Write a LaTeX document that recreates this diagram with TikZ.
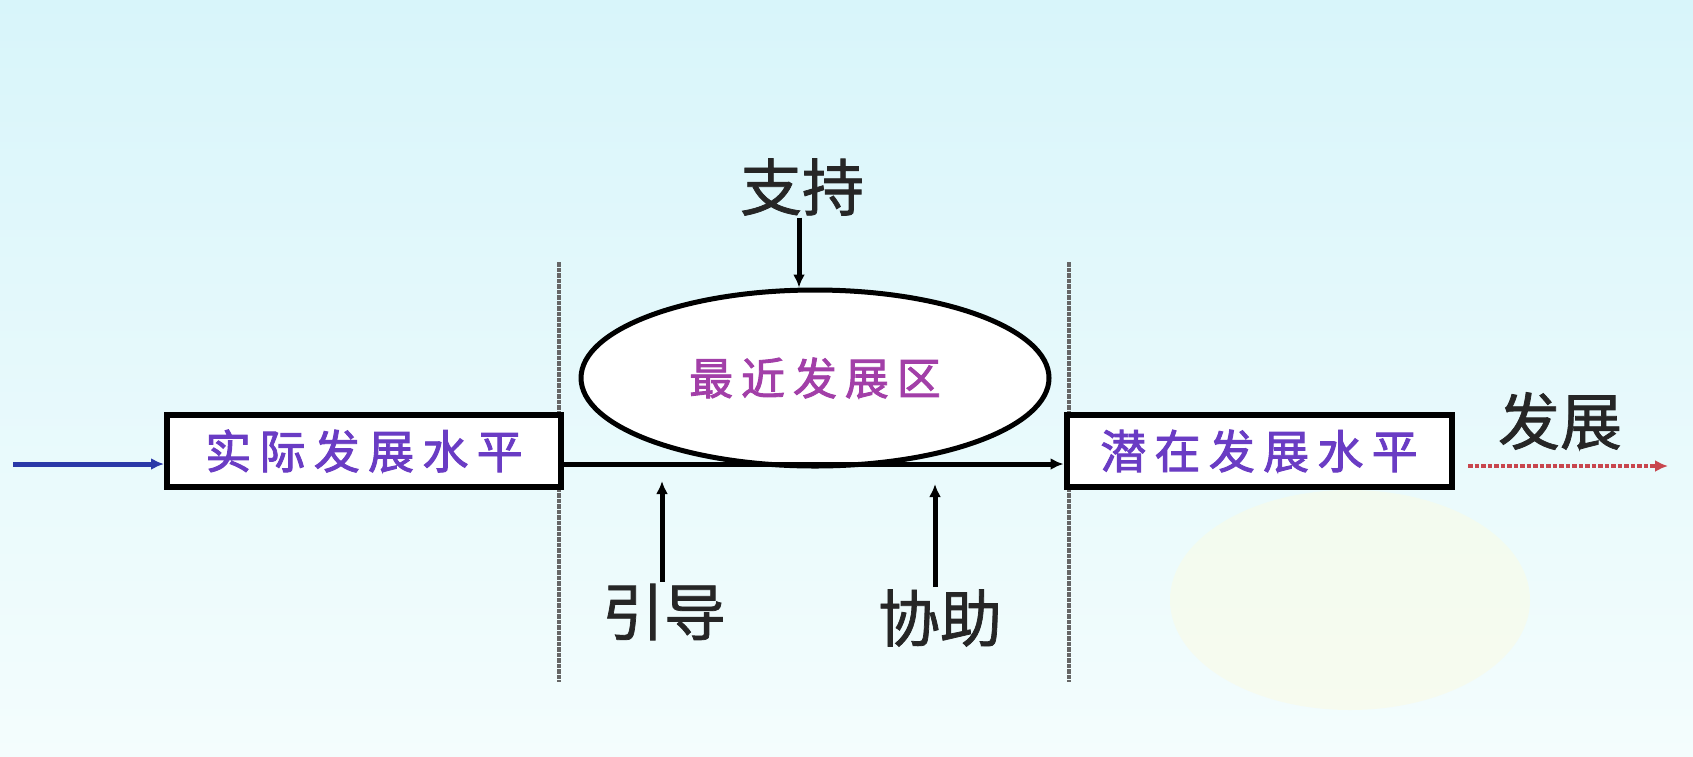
\documentclass[tikz,border=0pt]{standalone}
\usepackage{fontspec}
\newfontfamily\cjk[FakeBold=1.2]{Noto Sans CJK SC}
\newfontfamily\cjkls[LetterSpace=18,FakeBold=2]{Noto Sans CJK SC}
\usetikzlibrary{arrows.meta,shapes.geometric}
\definecolor{boxtext}{HTML}{6A3CC4}
\definecolor{zonetext}{HTML}{A23FA8}
\definecolor{inblue}{HTML}{2A38A8}
\definecolor{outred}{HTML}{C8464E}
\definecolor{skytop}{HTML}{D8F5FA}
\definecolor{skybot}{HTML}{F4FDFD}
\definecolor{sun}{HTML}{FFFBDC}
\tikzset{
  levelbox/.style={draw=black, line width=6pt, fill=white, minimum height=72pt, inner sep=0pt, text=boxtext, font=\cjkls\fontsize{46}{50}\selectfont},
  zonebox/.style={ellipse, draw=black, line width=5pt, fill=white, minimum width=468pt, minimum height=176pt, inner sep=0pt, text=zonetext, font=\cjkls\fontsize{44}{48}\selectfont},
  helplabel/.style={text=black!85, font=\cjk\fontsize{62}{66}\selectfont, inner sep=2pt},
  arr/.style={line width=5pt, -{Latex[length=13pt,width=12pt]}},
  bluearr/.style={draw=inblue, line width=5pt, -{Latex[length=13pt,width=12pt]}},
  redarr/.style={draw=outred, line width=4.5pt, dotted, -{Latex[length=13pt,width=12pt]}},
  zoneedge/.style={draw=black!60, line width=4.5pt, densely dotted}
}
\begin{document}
\begin{tikzpicture}[x=1pt,y=-1pt]
\useasboundingbox (0,0) rectangle (1693,756);
\shade[top color=skytop, bottom color=skybot] (0,0) rectangle (1693,756);
\fill[sun, opacity=0.4] (1350,600) ellipse (180pt and 110pt);

% boundaries of the zone
\coordinate (l1t) at (559,262);
\coordinate (l1b) at (559,682);
\coordinate (l2t) at (1069,262);
\coordinate (l2b) at (1069,682);
\draw[zoneedge] (l1t) -- (l1b);
\draw[zoneedge] (l2t) -- (l2b);

\node[zonebox] (zpd) at (815,378) {最近发展区};
\node[levelbox, minimum width=394pt] (actual) at (364,451) {实际发展水平};
\node[levelbox, minimum width=385pt] (potential) at (1259,451) {潜在发展水平};

\node[helplabel] (support) at (802,187) {支持};
\node[helplabel] (guide) at (664,612) {引导};
\node[helplabel] (assist) at (940,618) {协助};
\node[helplabel] (develop) at (1560,421) {发展};

\coordinate (in) at (13,464);
\coordinate (outs) at (1468,466);
\coordinate (oute) at (1668,466);
\coordinate (guideend) at (662,481);
\coordinate (assistend) at (935,484);

\draw[bluearr] (in) -- (actual.west |- in);
\draw[arr] (actual.east |- in) -- (potential.west |- in);
\draw[redarr] (outs) -- (oute);
\draw[arr] (support.south -| 799,0) -- (799,0 |- zpd.north);
\draw[arr] (guide.north -| guideend) -- (guideend);
\draw[arr] (assist.north -| assistend) -- (assistend);
\end{tikzpicture}
\end{document}
